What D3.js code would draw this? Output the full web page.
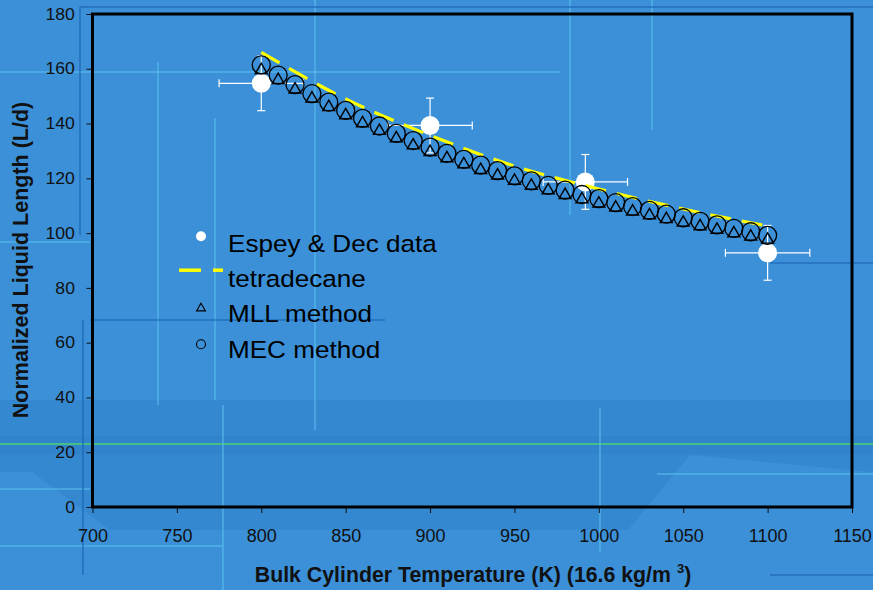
<!DOCTYPE html>
<html>
<head>
<meta charset="utf-8">
<script src="https://cdn.jsdelivr.net/npm/d3@7"></script>
<style>
  body { margin: 0; background: #3b90d8; }
  svg { display: block; font-family: "Liberation Sans", Arial, sans-serif; }
</style>
</head>
<body>
<svg id="chart" width="873" height="590"></svg>
<script>
// Espey & Dec measurements with error bars
const espeyT = [800, 900, 992, 1100];
const espeyL = [154.7, 139.3, 118.7, 92.8];
const espeyTErr = [25, 25, 25, 25];
const espeyLErr = [10, 10, 10, 10];

// tetradecane curve
const tetraT = [800, 850, 900, 950, 1000, 1050, 1100];
const tetraL = [166.0, 149.0, 135.7, 124.5, 116.1, 108.8, 102.6];

// model results
const methodT = [800, 810, 820, 830, 840, 850, 860, 870, 880, 890, 900, 910, 920, 930, 940, 950,
                 960, 970, 980, 990, 1000, 1010, 1020, 1030, 1040, 1050, 1060, 1070, 1080, 1090, 1100];
const mllL = [159.5, 155.9, 152.4, 149.1, 146.0, 143.0, 140.1, 137.3, 134.6, 132.0, 129.6, 127.3,
              125.1, 123.0, 121.0, 119.1, 117.3, 115.6, 113.9, 112.3, 110.8, 109.3, 107.9, 106.5,
              105.1, 103.8, 102.5, 101.2, 99.9, 98.7, 97.6];
const mecL = [161.4, 157.7, 154.2, 150.9, 147.8, 144.8, 141.9, 139.1, 136.4, 133.8, 131.4, 129.1,
              126.9, 124.8, 122.8, 120.9, 119.1, 117.4, 115.7, 114.1, 112.6, 111.1, 109.7, 108.3,
              106.9, 105.6, 104.3, 103.0, 101.7, 100.5, 99.2];

const xTicks = [700, 750, 800, 850, 900, 950, 1000, 1050, 1100, 1150];
const yTicks = [0, 20, 40, 60, 80, 100, 120, 140, 160, 180];
const legendLabels = ["Espey & Dec data", "tetradecane", "MLL method", "MEC method"];

(function () {
const W = 873, H = 590;
const svg = d3.select("#chart");

// ---- slide background decoration (template art) ----
const bg = svg.append("g");
bg.append("rect").attr("width", W).attr("height", H).attr("fill", "#3b90d8");
bg.append("path")
  .attr("d", "M0,400 L873,400 L873,472 L690,455 L628,530 L110,530 L32,472 L0,472 Z")
  .attr("fill", "#2b7cc6").attr("opacity", 0.4);
bg.append("rect").attr("x", 0).attr("y", 436).attr("width", W).attr("height", 18)
  .attr("fill", "#2a78c0").attr("opacity", 0.3);
bg.append("rect").attr("x", 0).attr("y", 443).attr("width", W).attr("height", 2)
  .attr("fill", "#44bf86");
const lightLines = [
  [0, 72, 560, 72], [158, 62, 158, 405], [215, 118, 215, 400], [315, 0, 315, 430],
  [652, 0, 652, 130], [570, 0, 570, 215], [600, 408, 600, 552], [657, 474, 873, 474],
  [0, 489, 90, 489], [0, 546, 223, 546], [223, 405, 223, 590], [0, 242, 90, 242]
];
bg.selectAll("line.light").data(lightLines).join("line").attr("class", "light")
  .attr("x1", d => d[0]).attr("y1", d => d[1]).attr("x2", d => d[2]).attr("y2", d => d[3])
  .attr("stroke", "#5cc0ee").attr("stroke-width", 1.5).attr("opacity", 0.7);
const darkLines = [
  [80, 7, 80, 235], [80, 7, 873, 7], [83, 320, 83, 575], [770, 575, 873, 575],
  [770, 263, 873, 263], [90, 320, 385, 320]
];
bg.selectAll("line.dark").data(darkLines).join("line").attr("class", "dark")
  .attr("x1", d => d[0]).attr("y1", d => d[1]).attr("x2", d => d[2]).attr("y2", d => d[3])
  .attr("stroke", "#1f68b8").attr("stroke-width", 1.6).attr("opacity", 0.8);

// ---- scales ----
const pL = 92.5, pR = 852, pT = 14, pB = 507;
const x = d3.scaleLinear().domain([700, 1150]).range([pL, pR]);
const y = d3.scaleLinear().domain([0, 180]).range([pB, pT]);

// axes
const yAxis = svg.append("g").attr("transform", `translate(${pL},0)`)
  .call(d3.axisLeft(y).tickValues(yTicks).tickSize(6).tickPadding(10).tickFormat(d3.format("d")));
yAxis.select(".domain").remove();
yAxis.selectAll("line").attr("stroke", "#111");
yAxis.selectAll("text").attr("font-size", 16).attr("fill", "#111")
  .attr("font-family", "Liberation Sans, Arial, sans-serif")
  .attr("transform", "scale(1.1,1)");

const xAxis = svg.append("g").attr("transform", `translate(0,${pB})`)
  .call(d3.axisBottom(x).tickValues(xTicks).tickSize(6).tickPadding(16).tickFormat(d3.format("d")));
xAxis.select(".domain").remove();
xAxis.selectAll("line").attr("stroke", "#111");
xAxis.selectAll("text").attr("font-size", 18).attr("fill", "#111")
  .attr("font-family", "Liberation Sans, Arial, sans-serif");

// plot frame
svg.append("rect")
  .attr("x", pL).attr("y", pT).attr("width", pR - pL).attr("height", pB - pT)
  .attr("fill", "none").attr("stroke", "#000").attr("stroke-width", 3);

// axis titles
svg.append("text")
  .attr("transform", "translate(28,260) rotate(-90)")
  .attr("text-anchor", "middle").attr("font-size", 21.5).attr("font-weight", "bold").attr("fill", "#111")
  .text("Normalized Liquid Length (L/d)");
const xt = svg.append("text")
  .attr("x", 473).attr("y", 582).attr("text-anchor", "middle")
  .attr("font-size", 21.3).attr("font-weight", "bold").attr("fill", "#111");
xt.append("tspan").text("Bulk Cylinder Temperature (K) (16.6 kg/m ");
xt.append("tspan").attr("font-size", 13).attr("dy", -9).text("3");
xt.append("tspan").attr("dy", 9).text(")");

// ---- data ----
const gData = svg.append("g");

// Espey & Dec error bars + dots
const espey = espeyT.map((t, i) => ({ t, l: espeyL[i], et: espeyTErr[i], el: espeyLErr[i] }));
const eb = gData.append("g").attr("stroke", "#fff").attr("stroke-width", 1.2);
espey.forEach(d => {
  eb.append("line").attr("x1", x(d.t - d.et)).attr("x2", x(d.t + d.et)).attr("y1", y(d.l)).attr("y2", y(d.l));
  eb.append("line").attr("x1", x(d.t)).attr("x2", x(d.t)).attr("y1", y(d.l - d.el)).attr("y2", y(d.l + d.el));
  [d.t - d.et, d.t + d.et].forEach(v => eb.append("line")
    .attr("x1", x(v)).attr("x2", x(v)).attr("y1", y(d.l) - 4).attr("y2", y(d.l) + 4));
  [d.l - d.el, d.l + d.el].forEach(v => eb.append("line")
    .attr("x1", x(d.t) - 4).attr("x2", x(d.t) + 4).attr("y1", y(v)).attr("y2", y(v)));
});
gData.selectAll("circle.espey").data(espey).join("circle").attr("class", "espey")
  .attr("cx", d => x(d.t)).attr("cy", d => y(d.l)).attr("r", 9.5).attr("fill", "#fff");

// tetradecane dashed line
const tetra = tetraT.map((t, i) => [t, tetraL[i]]);
gData.append("path").datum(tetra)
  .attr("d", d3.line().x(d => x(d[0])).y(d => y(d[1])).curve(d3.curveMonotoneX))
  .attr("fill", "none").attr("stroke", "#ffff00").attr("stroke-width", 3.2)
  .attr("stroke-dasharray", "21,11");

// MLL triangles
const tri = d3.symbol().type(d3.symbolTriangle).size(62);
gData.selectAll("path.mll").data(methodT.map((t, i) => [t, mllL[i]])).join("path").attr("class", "mll")
  .attr("transform", d => `translate(${x(d[0])},${y(d[1])})`)
  .attr("d", tri).attr("fill", "none").attr("stroke", "#000").attr("stroke-width", 1.4);

// MEC circles
gData.selectAll("circle.mec").data(methodT.map((t, i) => [t, mecL[i]])).join("circle").attr("class", "mec")
  .attr("cx", d => x(d[0])).attr("cy", d => y(d[1])).attr("r", 9)
  .attr("fill", "none").attr("stroke", "#000").attr("stroke-width", 1.3);

// ---- legend ----
const lg = svg.append("g");
const rowY = [251.7, 286.7, 322.3, 357.7];
lg.selectAll("text").data(legendLabels).join("text")
  .attr("transform", (d, i) => `translate(228,${rowY[i]}) scale(1.11,1)`)
  .attr("font-size", 23.5).attr("fill", "#000").text(d => d);
lg.append("circle").attr("cx", 201).attr("cy", rowY[0] - 15.5).attr("r", 5).attr("fill", "#fff");
lg.append("line").attr("x1", 179).attr("x2", 201).attr("y1", rowY[1] - 16.5).attr("y2", rowY[1] - 16.5)
  .attr("stroke", "#ffff00").attr("stroke-width", 3.5);
lg.append("line").attr("x1", 213).attr("x2", 223).attr("y1", rowY[1] - 16.5).attr("y2", rowY[1] - 16.5)
  .attr("stroke", "#ffff00").attr("stroke-width", 3.5);
lg.append("path").attr("transform", `translate(201,${rowY[2] - 14})`)
  .attr("d", d3.symbol().type(d3.symbolTriangle).size(34)).attr("fill", "none")
  .attr("stroke", "#000").attr("stroke-width", 1.1);
lg.append("circle").attr("cx", 201).attr("cy", rowY[3] - 13.5).attr("r", 4.5)
  .attr("fill", "none").attr("stroke", "#000").attr("stroke-width", 1.1);
})();
</script>
</body>
</html>
